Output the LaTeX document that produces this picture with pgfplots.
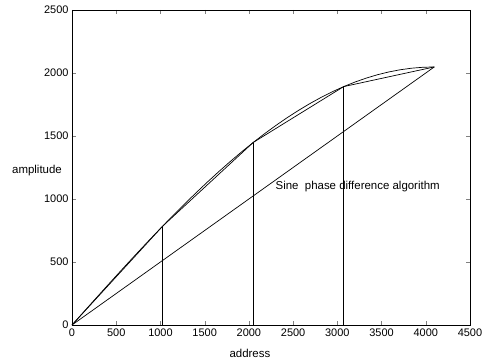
\documentclass[border=0pt]{standalone}
\usepackage{pgfplots}
\pgfplotsset{compat=1.18}
\usepackage{fontspec}
\setmainfont{Liberation Sans}
\begin{document}
\begin{tikzpicture}
\path[use as bounding box] (-72bp,-38bp) rectangle (417bp,325bp);
\begin{axis}[
  at={(0,0)}, anchor=south west,
  scale only axis, width=398bp, height=315bp,
  xmin=0, xmax=4500, ymin=0, ymax=2500,
  xtick={0,500,...,4500}, ytick={0,500,...,2500},
  tick align=inside, tick pos=both,
  major tick length=4bp,
  xticklabel pos=lower, yticklabel pos=left,
  scaled ticks=false,
  /pgf/number format/assume math mode=true,
  /pgf/number format/1000 sep={},
  tick label style={font=\fontsize{11}{13}\selectfont},
  label style={font=\fontsize{11.5}{13}\selectfont},
  xlabel={address},
  xlabel style={at={(axis description cs:0.447,-0.089)}, anchor=center},
  ylabel={amplitude},
  ylabel style={rotate=-90, at={(axis description cs:-0.088,0.49)}, anchor=center},
  axis line style={line width=0.8bp},
  clip=false,
]
\addplot[black, mark=none, line width=0.7bp] coordinates {
(0,0) (128,100.5) (256,200.7) (384,300.5) (512,399.5) (640,497.6) (768,594.5) (896,690.0)
(1024,783.7) (1152,875.6) (1280,965.4) (1408,1052.9) (1536,1137.8) (1664,1220.0) (1792,1299.2) (1920,1375.3)
(2048,1448.2) (2176,1517.5) (2304,1583.1) (2432,1645.0) (2560,1702.8) (2688,1756.6) (2816,1806.2) (2944,1851.4)
(3072,1892.1) (3200,1928.3) (3328,1959.8) (3456,1986.6) (3584,2008.6) (3712,2025.8) (3840,2038.1) (3968,2045.5)
(4096,2048)
};
\addplot[black, mark=none, line width=0.7bp] coordinates {(0,0) (1024,783.7) (2048,1448.2) (3072,1892.1) (4096,2048)};
\addplot[black, mark=none, line width=0.7bp] coordinates {(0,0) (4096,2048)};
\addplot[black, mark=none, line width=0.9bp] coordinates {(1024,0) (1024,783.7)};
\addplot[black, mark=none, line width=0.9bp] coordinates {(2048,0) (2048,1448.2)};
\addplot[black, mark=none, line width=0.9bp] coordinates {(3072,0) (3072,1892.1)};
\node[anchor=west, inner sep=0pt, font=\fontsize{11.5}{13}\selectfont] at (axis cs:2300,1095) {Sine\ \ phase difference algorithm};
\end{axis}
\end{tikzpicture}
\end{document}
